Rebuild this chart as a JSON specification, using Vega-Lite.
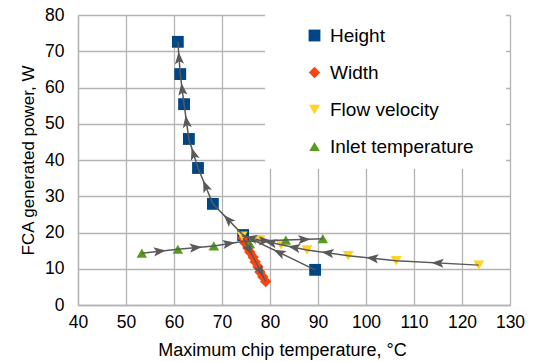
{
  "$schema": "https://vega.github.io/schema/vega-lite/v6.json",
  "width": 432,
  "height": 290,
  "autosize": {"type": "none"},
  "padding": {"left": 78, "top": 15, "right": 28, "bottom": 57},
  "background": "white",
  "config": {
    "font": "Liberation Sans",
    "view": {"stroke": null},
    "axis": {
      "grid": true,
      "gridColor": "#b3b3b3",
      "gridWidth": 1.3,
      "domainColor": "#b3b3b3",
      "domainWidth": 1.3,
      "ticks": false,
      "labelFlush": false,
      "labelOverlap": false,
      "labelFont": "Liberation Sans",
      "labelFontSize": 17.5,
      "labelColor": "#000000",
      "titleFont": "Liberation Sans",
      "titleFontSize": 17,
      "titleFontWeight": "normal",
      "titleColor": "#000000"
    }
  },
  "datasets": {
    "points": [
      {"series": "Height", "x": 89.4, "y": 9.7},
      {"series": "Height", "x": 74.4, "y": 19.3},
      {"series": "Height", "x": 68.1, "y": 27.9},
      {"series": "Height", "x": 65.0, "y": 37.8},
      {"series": "Height", "x": 63.1, "y": 45.8},
      {"series": "Height", "x": 62.1, "y": 55.4},
      {"series": "Height", "x": 61.3, "y": 63.7},
      {"series": "Height", "x": 60.8, "y": 72.6},
      {"series": "Width", "x": 74.4, "y": 18.5},
      {"series": "Width", "x": 74.8, "y": 17.1},
      {"series": "Width", "x": 75.4, "y": 15.7},
      {"series": "Width", "x": 75.8, "y": 14.6},
      {"series": "Width", "x": 76.5, "y": 13.2},
      {"series": "Width", "x": 76.9, "y": 11.9},
      {"series": "Width", "x": 77.5, "y": 10.5},
      {"series": "Width", "x": 77.9, "y": 9.1},
      {"series": "Width", "x": 78.5, "y": 7.8},
      {"series": "Width", "x": 79.1, "y": 6.5},
      {"series": "Flow velocity", "x": 74.2, "y": 19.0},
      {"series": "Flow velocity", "x": 77.9, "y": 17.9},
      {"series": "Flow velocity", "x": 82.3, "y": 16.6},
      {"series": "Flow velocity", "x": 87.7, "y": 15.2},
      {"series": "Flow velocity", "x": 96.3, "y": 13.6},
      {"series": "Flow velocity", "x": 106.3, "y": 12.2},
      {"series": "Flow velocity", "x": 123.5, "y": 11.0},
      {"series": "Inlet temperature", "x": 53.3, "y": 14.3},
      {"series": "Inlet temperature", "x": 60.8, "y": 15.4},
      {"series": "Inlet temperature", "x": 68.3, "y": 16.3},
      {"series": "Inlet temperature", "x": 75.8, "y": 16.9},
      {"series": "Inlet temperature", "x": 83.3, "y": 17.9},
      {"series": "Inlet temperature", "x": 91.0, "y": 18.3}
    ],
    "paths": [
      {"series": "Height", "step": 1, "x": 89.4, "y": 9.7},
      {"series": "Height", "step": 2, "x": 74.4, "y": 19.3},
      {"series": "Height", "step": 3, "x": 68.1, "y": 27.9},
      {"series": "Height", "step": 4, "x": 65.0, "y": 37.8},
      {"series": "Height", "step": 5, "x": 63.1, "y": 45.8},
      {"series": "Height", "step": 6, "x": 62.1, "y": 55.4},
      {"series": "Height", "step": 7, "x": 61.3, "y": 63.7},
      {"series": "Height", "step": 8, "x": 60.8, "y": 72.6},
      {"series": "Width", "step": 1, "x": 74.4, "y": 18.5},
      {"series": "Width", "step": 2, "x": 77.0, "y": 12.0},
      {"series": "Width", "step": 3, "x": 79.1, "y": 6.5},
      {"series": "Flow velocity", "step": 1, "x": 123.5, "y": 11.0},
      {"series": "Flow velocity", "step": 2, "x": 106.3, "y": 12.2},
      {"series": "Flow velocity", "step": 3, "x": 96.3, "y": 13.6},
      {"series": "Flow velocity", "step": 4, "x": 87.7, "y": 15.2},
      {"series": "Flow velocity", "step": 5, "x": 82.3, "y": 16.6},
      {"series": "Flow velocity", "step": 6, "x": 77.9, "y": 17.9},
      {"series": "Flow velocity", "step": 7, "x": 74.2, "y": 19.0},
      {"series": "Inlet temperature", "step": 1, "x": 53.3, "y": 14.3},
      {"series": "Inlet temperature", "step": 2, "x": 60.8, "y": 15.4},
      {"series": "Inlet temperature", "step": 3, "x": 68.3, "y": 16.3},
      {"series": "Inlet temperature", "step": 4, "x": 74.6, "y": 17.6},
      {"series": "Inlet temperature", "step": 5, "x": 83.3, "y": 17.9},
      {"series": "Inlet temperature", "step": 6, "x": 91.0, "y": 18.3}
    ]
  },
  "layer": [
    {
      "data": {"name": "points"},
      "mark": {"type": "point", "filled": true, "opacity": 1},
      "encoding": {
        "x": {"field": "x", "type": "quantitative", "scale": {"domain": [40, 130], "nice": false, "zero": false}, "axis": {"values": [40, 50, 60, 70, 80, 90, 100, 110, 120, 130], "labelOverlap": false, "title": "Maximum chip temperature, °C", "titleFontSize": 18, "titleX": 204, "labelPadding": 8, "titlePadding": 11}},
        "y": {"field": "y", "type": "quantitative", "scale": {"domain": [0, 80], "nice": false}, "axis": {"values": [0, 10, 20, 30, 40, 50, 60, 70, 80], "labelOverlap": false, "tickCount": 9, "title": "FCA generated power, W", "labelPadding": 14, "titlePadding": 7}},
        "color": {"field": "series", "type": "nominal",
          "scale": {"domain": ["Height", "Width", "Flow velocity", "Inlet temperature"], "range": ["#004586", "#ff420e", "#ffd320", "#579d1c"]},
          "legend": {"title": " ", "titleOrient": "right", "titlePadding": 20, "titleFontSize": 8,
            "orient": "none", "legendX": 187, "legendY": -1, "padding": 12,
            "fillColor": "white", "labelFontSize": 19, "labelFont": "Liberation Sans", "labelColor": "#000000",
            "symbolSize": 140, "rowPadding": 17, "symbolOffset": 28, "labelOffset": 6}},
        "shape": {"field": "series", "type": "nominal",
          "scale": {"domain": ["Height", "Width", "Flow velocity", "Inlet temperature"], "range": ["square", "diamond", "triangle-down", "triangle-up"]},
          "legend": null},
        "size": {"field": "series", "type": "nominal",
          "scale": {"domain": ["Height", "Width", "Flow velocity", "Inlet temperature"], "range": [140, 110, 130, 130]},
          "legend": null}
      }
    },
    {
      "data": {"name": "paths"},
      "mark": {"type": "line", "color": "#595959", "strokeWidth": 1.5},
      "encoding": {
        "x": {"field": "x", "type": "quantitative"},
        "y": {"field": "y", "type": "quantitative"},
        "detail": {"field": "series"},
        "order": {"field": "step", "type": "quantitative"}
      }
    },
    {
      "data": {"name": "paths"},
      "transform": [
        {"window": [{"op": "lead", "field": "x", "as": "nx"}, {"op": "lead", "field": "y", "as": "ny"}], "groupby": ["series"], "sort": [{"field": "step"}]},
        {"filter": "isValid(datum.nx)"},
        {"calculate": "(datum.x + datum.nx) / 2", "as": "mx"},
        {"calculate": "(datum.y + datum.ny) / 2", "as": "my"},
        {"calculate": "atan2(-(datum.ny - datum.y) * 3.625, (datum.nx - datum.x) * 4.8) * 180 / PI", "as": "ang"}
      ],
      "mark": {"type": "point", "filled": true, "opacity": 1, "color": "#595959", "size": 150, "shape": "M1,0L-1,-0.75L-0.55,0L-1,0.75Z"},
      "encoding": {
        "x": {"field": "mx", "type": "quantitative"},
        "y": {"field": "my", "type": "quantitative"},
        "angle": {"field": "ang", "type": "quantitative", "scale": null}
      }
    }
  ]
}
